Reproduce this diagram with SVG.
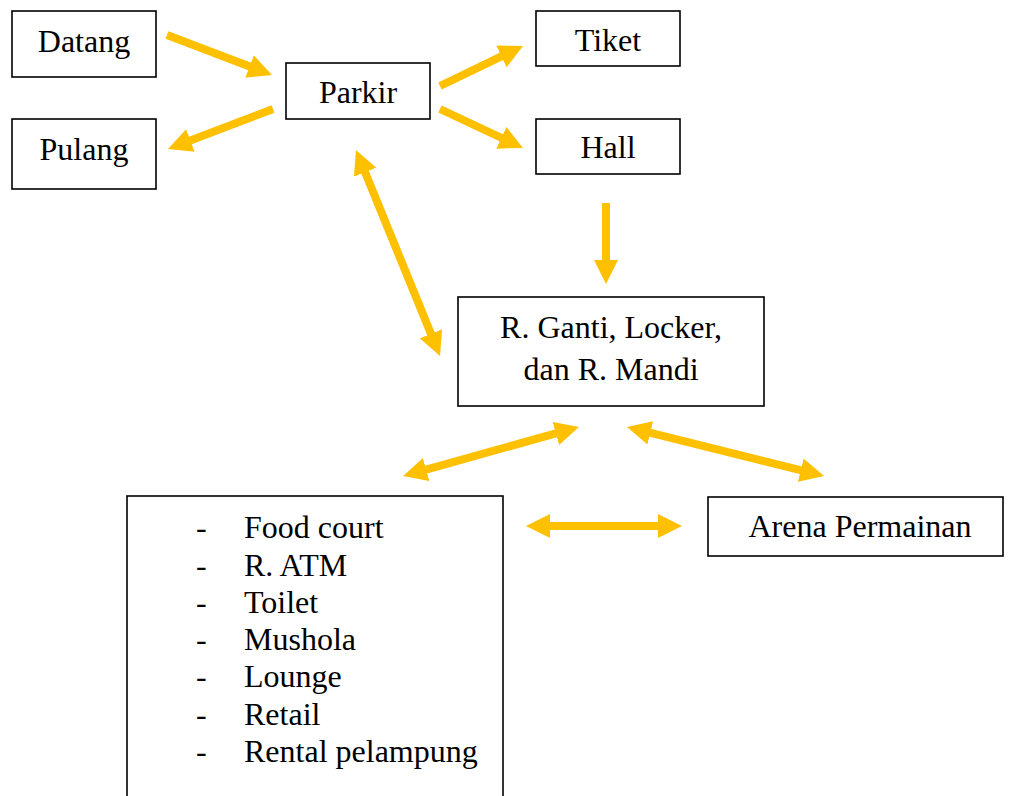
<svg xmlns="http://www.w3.org/2000/svg" width="1016" height="796" viewBox="0 0 1016 796">
<style>
.box{fill:#fff;stroke:#000;stroke-width:1.6}
.t{font-family:"Liberation Serif","Times New Roman",serif;font-size:32px;fill:#000}
.c{text-anchor:middle}
.arr{stroke:#FFC000;stroke-width:8;fill:none;marker-end:url(#ah)}
.dbl{marker-start:url(#ah)}
</style>
<defs>
<marker id="ah" viewBox="0 0 10 10" refX="5" refY="5" markerWidth="3" markerHeight="3" orient="auto-start-reverse" markerUnits="strokeWidth">
<path d="M0,0 L10,5 L0,10 Z" fill="#FFC000"/>
</marker>
</defs>
<rect width="1016" height="796" fill="#fff"/>
<g id="connectors">
<line class="arr" x1="167" y1="35" x2="260.8" y2="70.7"/>
<line class="arr" x1="273" y1="109" x2="179.2" y2="144.7"/>
<line class="arr" x1="440" y1="86" x2="512.2" y2="51.2"/>
<line class="arr" x1="440" y1="109" x2="512.1" y2="142.9"/>
<line class="arr dbl" x1="360.5" y1="161.1" x2="435.5" y2="344.9"/>
<line class="arr" x1="606" y1="203" x2="606" y2="272"/>
<line class="arr dbl" x1="414.6" y1="472.8" x2="567.4" y2="430.2"/>
<line class="arr dbl" x1="638.6" y1="429.9" x2="812.4" y2="473.1"/>
<line class="arr dbl" x1="538" y1="526" x2="670" y2="526"/>
</g>
<g id="datang"><rect class="box" x="12" y="11" width="144" height="66"/><text class="t c" x="84" y="52">Datang</text></g>
<g id="pulang"><rect class="box" x="12" y="119" width="144" height="70"/><text class="t c" x="84" y="160">Pulang</text></g>
<g id="parkir"><rect class="box" x="286" y="63" width="144" height="56"/><text class="t c" x="358" y="103">Parkir</text></g>
<g id="tiket"><rect class="box" x="536" y="11" width="144" height="55"/><text class="t c" x="608" y="51">Tiket</text></g>
<g id="hall"><rect class="box" x="536" y="119" width="144" height="55"/><text class="t c" x="608" y="158">Hall</text></g>
<g id="ganti"><rect class="box" x="458" y="297" width="306" height="109"/><text class="t c" x="611" y="338">R. Ganti, Locker,</text><text class="t c" x="611" y="380">dan R. Mandi</text></g>
<g id="arena"><rect class="box" x="708" y="497" width="295" height="59"/><text class="t c" x="860" y="537">Arena Permainan</text></g>
<g id="fasilitas"><rect class="box" x="127" y="496" width="376" height="320"/>
<g class="t">
<text x="196" y="538">-</text><text x="244" y="538">Food court</text>
<text x="196" y="576">-</text><text x="244" y="576">R. ATM</text>
<text x="196" y="613">-</text><text x="244" y="613">Toilet</text>
<text x="196" y="650">-</text><text x="244" y="650">Mushola</text>
<text x="196" y="687">-</text><text x="244" y="687">Lounge</text>
<text x="196" y="725">-</text><text x="244" y="725">Retail</text>
<text x="196" y="762">-</text><text x="244" y="762">Rental pelampung</text>
</g></g>
</svg>
